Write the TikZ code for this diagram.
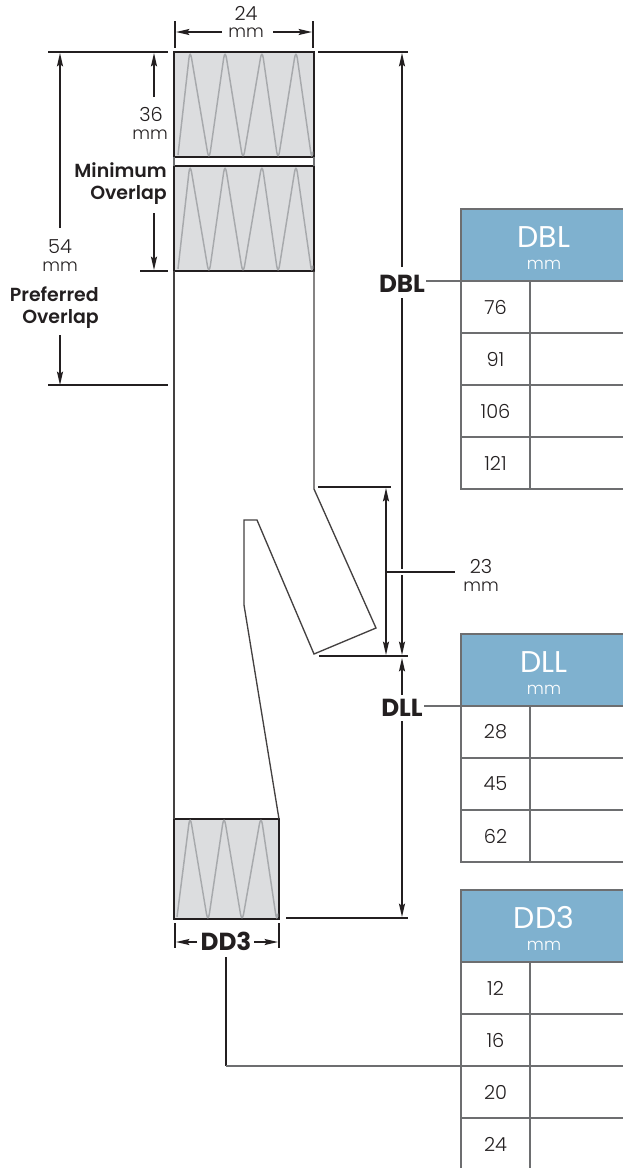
\documentclass[tikz,border=0pt]{standalone}
\usepackage{fontspec}
\setmainfont{Poppins}[UprightFont=* Light, BoldFont=* SemiBold]
\newfontfamily\keyfont{Poppins}[UprightFont=* Bold]
\newfontfamily\headfont{Poppins}
\usetikzlibrary{arrows.meta, positioning}
\definecolor{inkdark}{HTML}{231F20}
\definecolor{tablegray}{HTML}{6D6E70}
\definecolor{coilgray}{HTML}{A7A9AC}
\definecolor{sleevegray}{HTML}{DCDDDF}
\definecolor{headblue}{HTML}{7FB1CF}
\tikzset{
    dimtext/.style={text=inkdark, inner sep=0pt, font=\fontsize{14.5}{15}\selectfont},
    dimunit/.style={text=inkdark, inner sep=0pt, font=\fontsize{13}{14}\selectfont},
    boldtext/.style={text=inkdark, inner sep=0pt, align=right, font=\fontsize{14.2}{16.5}\selectfont\bfseries},
    dimkey/.style={text=inkdark, inner sep=0pt, font=\fontsize{18.5}{19}\selectfont\keyfont},
    dimline/.style={draw=inkdark, line width=1.1pt},
    arrow/.style={dimline, -{Stealth[length=10pt, width=4.5pt, inset=1.5pt]}},
    twoarrow/.style={dimline, {Stealth[length=10pt, width=4.5pt, inset=1.5pt]}-{Stealth[length=10pt, width=4.5pt, inset=1.5pt]}},
    leader/.style={draw=tablegray, line width=1.1pt},
    outline/.style={draw=inkdark!85, line width=1pt},
    sleeve/.style={rectangle, draw=inkdark, line width=0.9pt, fill=sleevegray, inner sep=0pt, outer sep=0pt, anchor=north west},
    coil/.style={draw=coilgray, line width=1.1pt, rounded corners=7pt},
    headcell/.style={rectangle, draw=tablegray, line width=1.5pt, fill=headblue, text=white, inner sep=0pt, outer sep=0pt, anchor=north west, align=center, minimum width=124.5pt, minimum height=54pt},
    numcell/.style={rectangle, draw=tablegray, line width=1.5pt, text=inkdark, inner sep=0pt, outer sep=0pt, anchor=north west, minimum width=51.75pt, minimum height=39pt, font=\fontsize{14.5}{15}\selectfont},
    valcell/.style={rectangle, draw=tablegray, line width=1.5pt, inner sep=0pt, outer sep=0pt, minimum width=72.75pt, minimum height=39pt},
}
\newcommand{\headtext}[1]{\rule{0pt}{20pt}{\fontsize{22.5}{20}\selectfont\headfont #1}\\[5pt]{\fontsize{12.5}{13}\selectfont mm}}

\begin{document}
\begin{tikzpicture}[x=0.75pt, y=-0.75pt]
    \useasboundingbox (0,0) rectangle (623,1168);
    \clip (0,0) rectangle (623,1168);

    % sleeves
    \node[sleeve, minimum width=105pt, minimum height=78.75pt] (topsleeve) at (174,52) {};
    \node[sleeve, minimum width=105pt, minimum height=78.75pt] (midsleeve) at (174,166) {};
    \node[sleeve, minimum width=78.75pt, minimum height=75pt] (endsleeve) at (174,819) {};

    % springs
    \draw[coil] (178,155) -- (190,49) -- (209,161) -- (225,49) -- (243,161) -- (262,49) -- (278,161) -- (296,49) -- (312,161) -- (312.5,155);
    \draw[coil] (178,269) -- (190,163) -- (209,275) -- (225,163) -- (243,275) -- (262,163) -- (278,275) -- (296,163) -- (312,275) -- (312.5,269);
    \draw[coil] (177,917) -- (190,815) -- (208,923) -- (224,815) -- (242,923) -- (261,815) -- (277,923) -- (277.5,917);

    % tube outline
    \draw[leader, line width=0.9pt] (topsleeve.south west) -- (midsleeve.north west);
    \draw[leader, line width=0.9pt] (topsleeve.south east) -- (midsleeve.north east);
    \draw[outline] (midsleeve.south west) -- (endsleeve.north west);
    \draw[outline] (midsleeve.south east) -- (314,489) -- (376,628) -- (314,654) -- (257,520) -- (244,520) -- (244,605) -- (endsleeve.north east);

    % labels
    \node[dimtext] (widthnum) at (246,13) {24};
    \node[dimunit] (widthmm) at (246,33) {mm};
    \node[dimtext] (minnum) at (151,114) {36};
    \node[dimunit, anchor=east] (minmm) at (168,135) {mm};
    \node[boldtext, anchor=east] (minover) at (167,184) {Minimum\\Overlap};
    \node[dimtext] (prefnum) at (60,247) {54};
    \node[dimunit] (prefmm) at (60,267) {mm};
    \node[boldtext, anchor=east] (prefover) at (99,308) {Preferred\\Overlap};
    \node[dimtext] (armnum) at (481,566) {23};
    \node[dimunit] (armmm) at (481,587) {mm};
    \node[dimkey] (dblkey) at (402,284) {DBL};
    \node[dimkey] (dllkey) at (402,708) {DLL};
    \node[dimkey] (ddkey) at (226,941) {DD3};

    % tables
    \node[headcell] (dblhead) at (461,209) {\headtext{DBL}};
    \node[numcell] (dbla) at (461,281) {76};
    \node[numcell] (dblb) at (461,333) {91};
    \node[numcell] (dblc) at (461,385) {106};
    \node[numcell] (dbld) at (461,437) {121};
    \node[valcell, right=0pt of dbla] (dblaval) {};
    \node[valcell, right=0pt of dblb] (dblbval) {};
    \node[valcell, right=0pt of dblc] (dblcval) {};
    \node[valcell, right=0pt of dbld] (dbldval) {};

    \node[headcell] (dllhead) at (461,634) {\headtext{DLL}};
    \node[numcell] (dlla) at (461,706) {28};
    \node[numcell] (dllb) at (461,758) {45};
    \node[numcell] (dllc) at (461,810) {62};
    \node[valcell, right=0pt of dlla] (dllaval) {};
    \node[valcell, right=0pt of dllb] (dllbval) {};
    \node[valcell, right=0pt of dllc] (dllcval) {};

    \node[headcell] (ddhead) at (461,890) {\headtext{DD3}};
    \node[numcell] (dda) at (461,962) {12};
    \node[numcell] (ddb) at (461,1014) {16};
    \node[numcell] (ddc) at (461,1066) {20};
    \node[numcell] (ddd) at (461,1118) {24};
    \node[valcell, right=0pt of dda] (ddaval) {};
    \node[valcell, right=0pt of ddb] (ddbval) {};
    \node[valcell, right=0pt of ddc] (ddcval) {};
    \node[valcell, right=0pt of ddd] (dddval) {};

    % dimension end points
    \coordinate (widthtl) at (175,21);
    \coordinate (widthbl) at (175,48);
    \coordinate (widthtr) at (313,21);
    \coordinate (widthbr) at (313,48);
    \coordinate (widthl) at (176,32);
    \coordinate (widthr) at (312,32);
    \coordinate (widthla) at (222,32);
    \coordinate (widthra) at (273,32);
    \coordinate (topl) at (48,52);
    \coordinate (toplr) at (168,52);
    \coordinate (toprl) at (318,52);
    \coordinate (topr) at (408,52);
    \coordinate (prefl) at (48,385);
    \coordinate (prefr) at (168,385);
    \coordinate (minl) at (140,271);
    \coordinate (minr) at (168,271);
    \coordinate (prefup) at (60,228);
    \coordinate (preftop) at (60,53);
    \coordinate (prefdown) at (60,335);
    \coordinate (prefbot) at (60,385);
    \coordinate (minup) at (154,97);
    \coordinate (mintop) at (154,53);
    \coordinate (mindown) at (154,213);
    \coordinate (minbot) at (154,270);
    \coordinate (armtl) at (318,487);
    \coordinate (armtr) at (391,487);
    \coordinate (armbl) at (319,656);
    \coordinate (armbr) at (408,656);
    \coordinate (armt) at (386,488);
    \coordinate (armb) at (386,655);
    \coordinate (armmid) at (386,572);
    \coordinate (armend) at (455,572);
    \coordinate (gapl) at (396,572);
    \coordinate (gapr) at (408,572);
    \coordinate (dblup) at (402,267);
    \coordinate (dbldown) at (402,298);
    \coordinate (dbltop) at (402,53);
    \coordinate (dblbot) at (402,655);
    \coordinate (dllup) at (402,695);
    \coordinate (dlldown) at (402,721);
    \coordinate (dlltop) at (402,658);
    \coordinate (dllbot) at (402,917);
    \coordinate (endl) at (286,918);
    \coordinate (endr) at (408,918);
    \coordinate (ddtl) at (175,923);
    \coordinate (ddbl) at (175,948);
    \coordinate (ddtr) at (279,923);
    \coordinate (ddbr) at (279,948);
    \coordinate (ddl) at (176,942);
    \coordinate (ddr) at (278,942);
    \coordinate (ddla) at (197,942);
    \coordinate (ddra) at (254,942);
    \coordinate (ddstart) at (226,957);
    \coordinate (ddturn) at (226,1066);
    \coordinate (dblkeyr) at (426,281);
    \coordinate (dllkeyr) at (424,706);

    % witness lines
    \draw[dimline] (widthtl) -- (widthbl);
    \draw[dimline] (widthtr) -- (widthbr);
    \draw[dimline] (topl) -- (toplr);
    \draw[dimline] (toprl) -- (topr);
    \draw[dimline] (prefl) -- (prefr);
    \draw[dimline] (minl) -- (minr);
    \draw[dimline] (armtl) -- (armtr);
    \draw[dimline] (armbl) -- (armbr);
    \draw[dimline] (endl) -- (endr);
    \draw[dimline] (ddtl) -- (ddbl);
    \draw[dimline] (ddtr) -- (ddbr);

    % arrows
    \draw[arrow] (widthla) -- (widthl);
    \draw[arrow] (widthra) -- (widthr);
    \draw[arrow] (prefup) -- (preftop);
    \draw[arrow] (prefdown) -- (prefbot);
    \draw[arrow] (minup) -- (mintop);
    \draw[arrow] (mindown) -- (minbot);
    \draw[arrow] (dblup) -- (dbltop);
    \draw[arrow] (dbldown) -- (dblbot);
    \draw[arrow] (dllup) -- (dlltop);
    \draw[arrow] (dlldown) -- (dllbot);
    \draw[twoarrow] (armt) -- (armb);
    \draw[arrow] (ddla) -- (ddl);
    \draw[arrow] (ddra) -- (ddr);

    % leaders
    \draw[white, line width=4.5pt] (gapl) -- (gapr);
    \draw[dimline] (armmid) -- (armend);
    \draw[leader] (dblkeyr) -- (dbla.north west);
    \draw[leader] (dllkeyr) -- (dlla.north west);
    \draw[dimline] (ddstart) -- (ddturn);
    \draw[leader] (ddturn) -- (ddc.north west);
\end{tikzpicture}
\end{document}
